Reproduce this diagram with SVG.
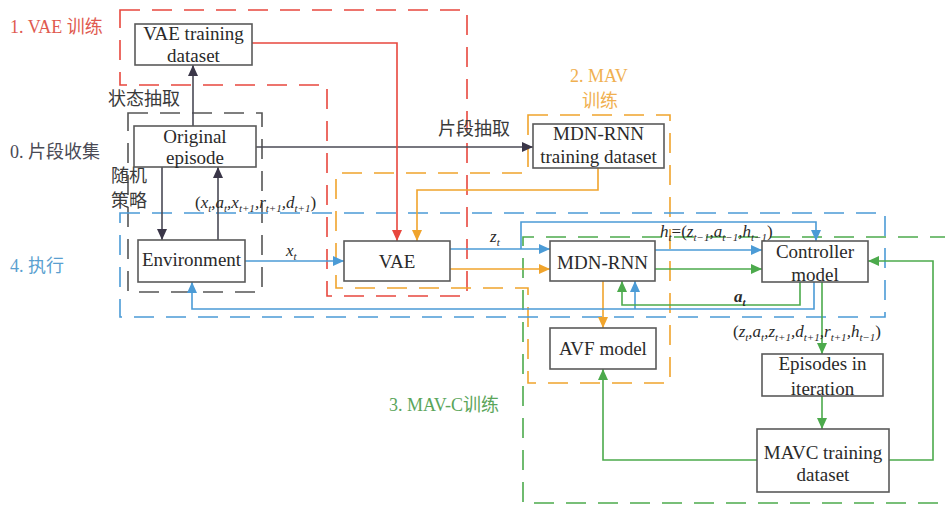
<svg xmlns="http://www.w3.org/2000/svg" width="945" height="506" viewBox="0 0 945 506">
<style>
.node rect{fill:#fff;stroke:#5a5a5a;stroke-width:1.6}
.nt{font-family:"Liberation Serif","Times New Roman","DejaVu Serif",serif;font-size:19px;fill:#2a2a2a;text-anchor:middle}
.zone{fill:none;stroke-width:1.6;stroke-dasharray:20 12}
.lbl{font-family:"Liberation Serif","Times New Roman",serif;font-size:18px}
.cjk{font-family:"Noto Sans CJK SC",sans-serif}
.cn{font-family:"Noto Sans CJK SC",sans-serif;font-size:18px;fill:#3a3a3a}
.m{font-family:"Liberation Serif","Times New Roman",serif;font-size:17px;font-style:italic;fill:#2a2a2a}
.s{font-size:11px}
.c{fill:none;stroke-width:1.6}
.dk{stroke:#4a4a55}.rd{stroke:#e8473e}.or{stroke:#f0a42c}.bl{stroke:#4b9bd6}.gr{stroke:#4caa4c}
</style>
<defs>
<marker id="adk" markerUnits="userSpaceOnUse" markerWidth="11" markerHeight="10" refX="11" refY="5" orient="auto"><path d="M0,0 L11,5 L0,10 z" fill="#3a3648"/></marker>
<marker id="ard" markerUnits="userSpaceOnUse" markerWidth="11" markerHeight="10" refX="11" refY="5" orient="auto"><path d="M0,0 L11,5 L0,10 z" fill="#e8473e"/></marker>
<marker id="aor" markerUnits="userSpaceOnUse" markerWidth="11" markerHeight="10" refX="11" refY="5" orient="auto"><path d="M0,0 L11,5 L0,10 z" fill="#f0a42c"/></marker>
<marker id="abl" markerUnits="userSpaceOnUse" markerWidth="11" markerHeight="10" refX="11" refY="5" orient="auto"><path d="M0,0 L11,5 L0,10 z" fill="#4b9bd6"/></marker>
<marker id="agr" markerUnits="userSpaceOnUse" markerWidth="11" markerHeight="10" refX="11" refY="5" orient="auto"><path d="M0,0 L11,5 L0,10 z" fill="#4caa4c"/></marker>
</defs>
<rect width="945" height="506" fill="#fff"/>

<g id="zones">
<path class="zone" stroke="#e8473e" d="M120,10 H467 V296 H327 V85 H120 Z"/>
<rect class="zone" stroke="#555" x="128" y="113" width="134" height="179"/>
<path class="zone" stroke="#f0a42c" d="M528,115 H670 V383 H528 V288 H336 V173 H528 Z"/>
<rect class="zone" stroke="#4b9bd6" x="120" y="213" width="765" height="104"/>
<path class="zone" stroke="#4caa4c" d="M950,237 H523 V503 H950"/>
</g>

<g id="zone-labels">
<text class="lbl" x="10" y="33" fill="#e05a50">1. VAE <tspan class="cjk">训练</tspan></text>
<text class="lbl" x="10" y="158" fill="#4a4a55">0. <tspan class="cjk">片段收集</tspan></text>
<text class="lbl" x="570" y="82" fill="#f0b050">2. MAV</text>
<text class="lbl cjk" x="582" y="107" fill="#f0b050" font-size="17">训练</text>
<text class="lbl" x="10" y="272" fill="#5a9fd0">4. <tspan class="cjk">执行</tspan></text>
<text class="lbl" x="389" y="411" fill="#5aa55a">3. MAV-C<tspan class="cjk">训练</tspan></text>
</g>

<g id="connectors">
<path class="c dk" d="M193,126 V65" marker-end="url(#adk)"/>
<path class="c dk" d="M256,147 H533" marker-end="url(#adk)"/>
<path class="c dk" d="M162,167 V240" marker-end="url(#adk)"/>
<path class="c dk" d="M218,240 V167" marker-end="url(#adk)"/>
<path class="c rd" d="M252,43 H397 V241" marker-end="url(#ard)"/>
<path class="c or" d="M598,168 V190 H417 V241" marker-end="url(#aor)"/>
<path class="c or" d="M450,269 H550" marker-end="url(#aor)"/>
<path class="c or" d="M603,281 V328" marker-end="url(#aor)"/>
<path class="c bl" d="M245,261 H344" marker-end="url(#abl)"/>
<path class="c bl" d="M450,249 H550" marker-end="url(#abl)"/>
<path class="c bl" d="M521,249 V222 H816 V241" marker-end="url(#abl)"/>
<path class="c bl" d="M655,250 H762" marker-end="url(#abl)"/>
<path class="c bl" d="M814,282 V309 H192 V282" marker-end="url(#abl)"/>
<path class="c bl" d="M635,309 V281" marker-end="url(#abl)"/>
<path class="c gr" d="M655,269 H762" marker-end="url(#agr)"/>
<path class="c gr" d="M800,282 V305 H622 V281" marker-end="url(#agr)"/>
<path class="c gr" d="M822,282 V354" marker-end="url(#agr)"/>
<path class="c gr" d="M822,396 V429" marker-end="url(#agr)"/>
<path class="c gr" d="M757,460 H603 V369" marker-end="url(#agr)"/>
<path class="c gr" d="M889,460 H933 V261 H868" marker-end="url(#agr)"/>
</g>

<g id="connector-labels">
<text class="cn" x="108" y="105">状态抽取</text>
<text class="cn" x="438" y="135">片段抽取</text>
<text class="cn" x="111" y="182" font-size="17">随机</text>
<text class="cn" x="111" y="207" font-size="17">策略</text>
<text class="m" x="195" y="208"><tspan font-style="normal">(</tspan>x<tspan class="s" dy="4">t</tspan><tspan dy="-4">,a</tspan><tspan class="s" dy="4">t</tspan><tspan dy="-4">,x</tspan><tspan class="s" dy="4">t+1</tspan><tspan dy="-4">,r</tspan><tspan class="s" dy="4">t+1</tspan><tspan dy="-4">,d</tspan><tspan class="s" dy="4">t+1</tspan><tspan dy="-4" font-style="normal">)</tspan></text>
<text class="m" x="286" y="256">x<tspan class="s" dy="4">t</tspan></text>
<text class="m" x="490" y="242">z<tspan class="s" dy="4">t</tspan></text>
<text class="m" x="660" y="237">h<tspan class="s" dy="4">t</tspan><tspan dy="-4" font-style="normal">=(</tspan>z<tspan class="s" dy="4">t−1</tspan><tspan dy="-4">,a</tspan><tspan class="s" dy="4">t−1</tspan><tspan dy="-4">,h</tspan><tspan class="s" dy="4">t−1</tspan><tspan dy="-4" font-style="normal">)</tspan></text>
<text class="m" x="734" y="302" font-size="19" font-weight="bold">a<tspan class="s" dy="4">t</tspan></text>
<text class="m" x="733" y="337"><tspan font-style="normal">(</tspan>z<tspan class="s" dy="4">t</tspan><tspan dy="-4">,a</tspan><tspan class="s" dy="4">t</tspan><tspan dy="-4">,z</tspan><tspan class="s" dy="4">t+1</tspan><tspan dy="-4">,d</tspan><tspan class="s" dy="4">t+1</tspan><tspan dy="-4">,r</tspan><tspan class="s" dy="4">t+1</tspan><tspan dy="-4">,h</tspan><tspan class="s" dy="4">t−1</tspan><tspan dy="-4" font-style="normal">)</tspan></text>
</g>

<g id="vae-dataset" class="node"><rect x="135" y="24" width="117" height="41"/><text class="nt" x="193.5" y="40">VAE training</text><text class="nt" x="193.5" y="62">dataset</text></g>
<g id="original-episode" class="node"><rect x="134" y="126" width="122" height="41"/><text class="nt" x="195" y="143">Original</text><text class="nt" x="195" y="164">episode</text></g>
<g id="environment" class="node"><rect x="138" y="240" width="107" height="42"/><text class="nt" x="191.5" y="266">Environment</text></g>
<g id="vae" class="node"><rect x="344" y="241" width="106" height="40"/><text class="nt" x="397" y="268">VAE</text></g>
<g id="mdn-dataset" class="node"><rect x="533" y="124" width="131" height="44"/><text class="nt" x="598.5" y="140">MDN-RNN</text><text class="nt" x="598.5" y="163">training dataset</text></g>
<g id="mdn-rnn" class="node"><rect x="550" y="241" width="105" height="40"/><text class="nt" x="602.5" y="269">MDN-RNN</text></g>
<g id="controller" class="node"><rect x="762" y="241" width="106" height="41"/><text class="nt" x="815" y="258">Controller</text><text class="nt" x="815" y="281">model</text></g>
<g id="avf" class="node"><rect x="550" y="328" width="106" height="41"/><text class="nt" x="603" y="355">AVF model</text></g>
<g id="episodes" class="node"><rect x="762" y="354" width="121" height="42"/><text class="nt" x="822.5" y="370">Episodes in</text><text class="nt" x="822.5" y="395">iteration</text></g>
<g id="mavc-dataset" class="node"><rect x="757" y="429" width="132" height="63"/><text class="nt" x="823" y="459">MAVC training</text><text class="nt" x="823" y="481">dataset</text></g>
</svg>
